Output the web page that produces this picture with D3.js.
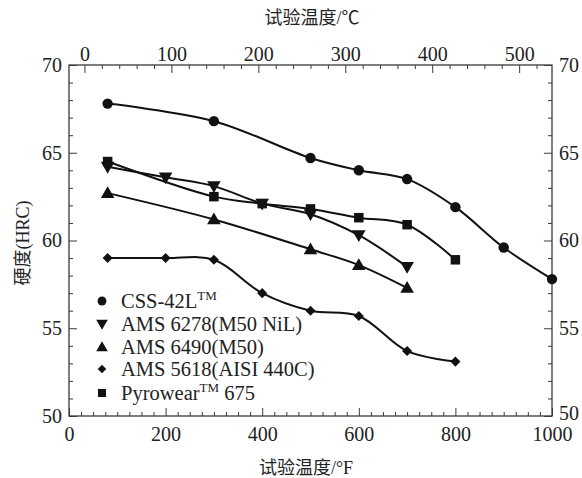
<!DOCTYPE html>
<html>
<head>
<meta charset="utf-8">
<script src="https://cdn.jsdelivr.net/npm/d3@7"></script>
<style>
  html, body { margin: 0; padding: 0; background: #fff; }
  svg { display: block; }
</style>
</head>
<body>
<svg id="chart" width="582" height="478"></svg>
<script>
// Hardness (HRC) versus test temperature (°F) for five bearing steels
const tempsCSS42L   = [80, 300, 500, 600, 700, 800, 900, 1000];
const hrcCSS42L     = [67.8, 66.8, 64.7, 64.0, 63.5, 61.9, 59.6, 57.8];

const tempsAMS6278  = [80, 200, 300, 400, 500, 600, 700];
const hrcAMS6278    = [64.2, 63.6, 63.1, 62.1, 61.5, 60.3, 58.5];

const tempsAMS6490  = [80, 300, 500, 600, 700];
const hrcAMS6490    = [62.7, 61.2, 59.5, 58.6, 57.3];

const tempsAMS5618  = [80, 200, 300, 400, 500, 600, 700, 800];
const hrcAMS5618    = [59.0, 59.0, 58.9, 57.0, 56.0, 55.7, 53.7, 53.1];

const tempsPyrowear = [80, 300, 400, 500, 600, 700, 800];
const hrcPyrowear   = [64.5, 62.5, 62.1, 61.8, 61.3, 60.9, 58.9];

const seriesNames   = ["CSS-42L", "AMS 6278(M50 NiL)", "AMS 6490(M50)", "AMS 5618(AISI 440C)", "Pyrowear"];
const seriesSymbols = ["circle", "triangleDown", "triangleUp", "diamond", "square"];

const ticksF   = [0, 200, 400, 600, 800, 1000];
const ticksC   = [0, 100, 200, 300, 400, 500];
const ticksHRC = [50, 55, 60, 65, 70];

const xTitle  = "试验温度/°F";
const x2Title = "试验温度/℃";
const yTitle  = "硬度(HRC)";

const SERIF = "'Liberation Serif', 'DejaVu Serif', serif";
const CJK = "'Liberation Serif', 'Noto Sans CJK SC', serif";

const svg = d3.select("#chart");
const L = 69, R = 552, T = 65, B = 416;

const x = d3.scaleLinear().domain([0, 1000]).range([L, R]);
const xC = d3.scaleLinear().domain([(0 - 32) * 5 / 9, (1000 - 32) * 5 / 9]).range([L, R]);
const y = d3.scaleLinear().domain([50, 70]).range([B, T]);

const axisColor = "#3a3a3a";
const fontSize = 20;

function styleAxis(g) {
  g.attr("font-family", SERIF).attr("font-size", fontSize);
  g.select(".domain").remove();
  g.selectAll("line").attr("stroke", axisColor).attr("stroke-width", 1);
  g.selectAll("text").attr("font-family", SERIF).attr("font-size", fontSize).attr("fill", "#222");
}

// frame
svg.append("rect").attr("x", L).attr("y", T).attr("width", R - L).attr("height", B - T)
  .attr("fill", "none").attr("stroke", axisColor).attr("stroke-width", 1.3);

// minor ticks
const minorF = d3.range(0, 1001, 25).filter(v => ticksF.indexOf(v) < 0);
const minorC = d3.range(0, 540, 20).filter(v => ticksC.indexOf(v) < 0);
const minorH = d3.range(50, 70.1, 1).filter(v => ticksHRC.indexOf(v) < 0);

svg.append("g").attr("transform", `translate(0,${B})`)
  .call(d3.axisBottom(x).tickValues(minorF).tickSize(-4).tickFormat(""))
  .call(styleAxis);
svg.append("g").attr("transform", `translate(0,${T})`)
  .call(d3.axisTop(xC).tickValues(minorC).tickSize(-4).tickFormat(""))
  .call(styleAxis);
svg.append("g").attr("transform", `translate(${L},0)`)
  .call(d3.axisLeft(y).tickValues(minorH).tickSize(-4).tickFormat(""))
  .call(styleAxis);
svg.append("g").attr("transform", `translate(${R},0)`)
  .call(d3.axisRight(y).tickValues(minorH).tickSize(-4).tickFormat(""))
  .call(styleAxis);

// major ticks with labels
svg.append("g").attr("transform", `translate(0,${B})`)
  .call(d3.axisBottom(x).tickValues(ticksF).tickSize(-8).tickPadding(11).tickFormat(d3.format("d")))
  .call(styleAxis);
svg.append("g").attr("transform", `translate(0,${T})`)
  .call(d3.axisTop(xC).tickValues(ticksC).tickSize(-8).tickPadding(4).tickFormat(d3.format("d")))
  .call(styleAxis);
svg.append("g").attr("transform", `translate(${L},0)`)
  .call(d3.axisLeft(y).tickValues(ticksHRC).tickSize(-8).tickPadding(7).tickFormat(d3.format("d")))
  .call(styleAxis);
const rightAxis = svg.append("g").attr("transform", `translate(${R},0)`)
  .call(d3.axisRight(y).tickValues(ticksHRC).tickSize(-8).tickPadding(7).tickFormat(d3.format("d")))
  .call(styleAxis);
// lift the bottom-right label so it clears the "1000" label below it
rightAxis.selectAll(".tick text").filter(d => d === 50).attr("y", -3);

// axis titles
svg.append("text").attr("font-family", CJK).attr("x", 306).attr("y", 474)
  .attr("text-anchor", "middle").attr("font-size", 18).attr("fill", "#222").text(xTitle);
svg.append("text").attr("font-family", CJK).attr("x", 312).attr("y", 24)
  .attr("text-anchor", "middle").attr("font-size", 18).attr("fill", "#222").text(x2Title);
svg.append("text").attr("font-family", CJK)
  .attr("transform", "translate(29,243) rotate(-90)")
  .attr("text-anchor", "middle").attr("font-size", 18).attr("fill", "#222").text(yTitle);

// marker shapes
const symbolPaths = {
  circle: d3.symbol(d3.symbolCircle, 85),
  square: d3.symbol(d3.symbolSquare, 90),
  diamond: d3.symbol(d3.symbolDiamond2, 65),
  triangleUp: d3.symbol(d3.symbolTriangle, 80),
  triangleDown: d3.symbol(d3.symbolTriangle, 80)
};
function drawMarker(g, kind, cx, cy, scale) {
  const p = g.append("path").attr("d", symbolPaths[kind]()).attr("fill", "#111");
  const rot = kind === "triangleDown" ? " rotate(180)" : "";
  const dy = kind === "triangleDown" ? -1 : (kind === "triangleUp" ? 1 : 0);
  p.attr("transform", `translate(${cx},${cy + dy * scale})${rot} scale(${scale})`);
}

const allSeries = [
  [tempsCSS42L, hrcCSS42L],
  [tempsAMS6278, hrcAMS6278],
  [tempsAMS6490, hrcAMS6490],
  [tempsAMS5618, hrcAMS5618],
  [tempsPyrowear, hrcPyrowear]
];

const line = d3.line().x(d => x(d[0])).y(d => y(d[1])).curve(d3.curveCatmullRom.alpha(0.5));
const plot = svg.append("g");

allSeries.forEach(([ts, hs], i) => {
  const pts = ts.map((t, j) => [t, hs[j]]);
  plot.append("path").datum(pts).attr("d", line)
    .attr("fill", "none").attr("stroke", "#111").attr("stroke-width", 2);
});
allSeries.forEach(([ts, hs], i) => {
  ts.forEach((t, j) => drawMarker(plot, seriesSymbols[i], x(t), y(hs[j]), 1));
});

// legend
const legendRows = [301, 324, 347, 369, 393];
const legend = svg.append("g");
seriesNames.forEach((name, i) => {
  const ly = legendRows[i];
  drawMarker(legend, seriesSymbols[i], 102, ly, 0.85);
  const t = legend.append("text").attr("font-family", SERIF).attr("x", 121).attr("y", ly + 7)
    .attr("font-size", 20.5).attr("fill", "#222");
  t.append("tspan").text(name);
  if (i === 0) {
    t.append("tspan").attr("dy", -8).attr("font-size", 13).text("TM");
  } else if (i === 4) {
    t.append("tspan").attr("dy", -8).attr("font-size", 13).text("TM");
    t.append("tspan").attr("dy", 8).text(" 675");
  }
});
</script>
</body>
</html>
